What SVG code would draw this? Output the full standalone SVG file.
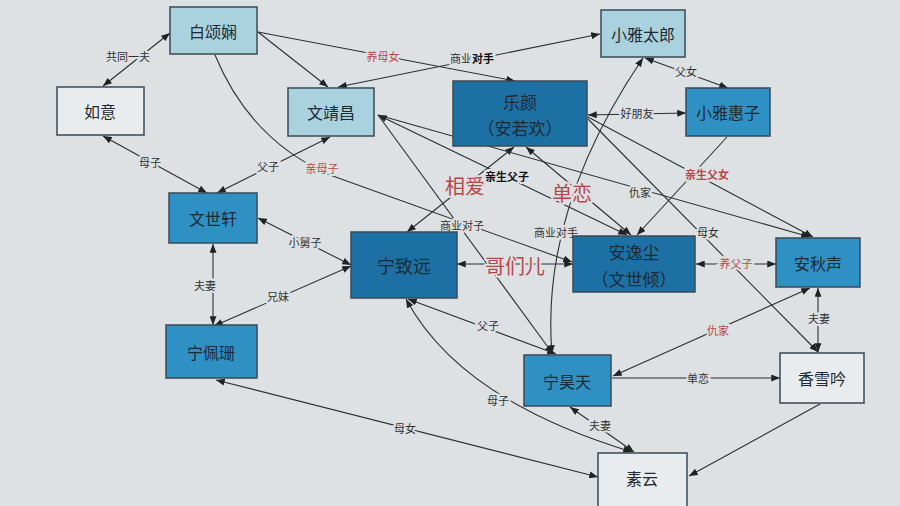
<svg xmlns="http://www.w3.org/2000/svg" width="900" height="506" viewBox="0 0 900 506">
<defs>
<marker id="ah" viewBox="0 0 10 8" refX="10" refY="4" markerWidth="9" markerHeight="7" markerUnits="userSpaceOnUse" orient="auto-start-reverse">
<path d="M0,0 L10,4 L0,8 z" fill="#1e2326"/>
</marker>
</defs>
<style>
.e{fill:none;stroke:#2a2f33;stroke-width:1.1}
.n{stroke:#3a4a55;stroke-width:1.5}
.lt{fill:#a9d1de}
.md{fill:#2f90c4}
.dk{fill:#1c70a4}
.wh{fill:#e9ecee}
.t{font-family:"Noto Sans CJK SC","Noto Sans CJK JP",sans-serif;fill:#1f2a33;text-anchor:middle;dominant-baseline:central}
.nt{font-size:16px}
.big{font-size:17px}
.l{font-family:"Noto Sans CJK SC",sans-serif;font-size:11px;fill:#333;text-anchor:middle;dominant-baseline:central;paint-order:stroke;stroke:#dde1e4;stroke-width:4px}
.r{fill:#b8474a}
.rb{font-size:20px;fill:#b8474a}
.b{font-weight:bold;fill:#111}
</style>
<rect x="0" y="0" width="900" height="506" fill="#dde1e4"/>

<g id="connectors">
<line class="e" x1="170" y1="33" x2="103" y2="86" marker-start="url(#ah)" marker-end="url(#ah)"/>
<line class="e" x1="258" y1="32" x2="328" y2="87" marker-end="url(#ah)"/>
<line class="e" x1="258" y1="32" x2="515" y2="81" marker-end="url(#ah)"/>
<line class="e" x1="338" y1="87" x2="600" y2="34" marker-start="url(#ah)" marker-end="url(#ah)"/>
<path class="e" d="M215,55 Q250,140 330,175 L572,262" marker-end="url(#ah)"/>
<line class="e" x1="103" y1="136" x2="207" y2="193" marker-start="url(#ah)" marker-end="url(#ah)"/>
<line class="e" x1="330" y1="137" x2="217" y2="193" marker-start="url(#ah)" marker-end="url(#ah)"/>
<line class="e" x1="258" y1="218" x2="351" y2="265" marker-start="url(#ah)" marker-end="url(#ah)"/>
<line class="e" x1="213" y1="244" x2="213" y2="325" marker-start="url(#ah)" marker-end="url(#ah)"/>
<line class="e" x1="214" y1="326" x2="351" y2="266" marker-start="url(#ah)" marker-end="url(#ah)"/>
<line class="e" x1="514" y1="147" x2="407" y2="232" marker-start="url(#ah)" marker-end="url(#ah)"/>
<line class="e" x1="457" y1="264" x2="573" y2="264" marker-start="url(#ah)" marker-end="url(#ah)"/>
<line class="e" x1="378" y1="115" x2="627" y2="235" marker-start="url(#ah)" marker-end="url(#ah)"/>
<line class="e" x1="378" y1="115" x2="810" y2="237" marker-end="url(#ah)"/>
<line class="e" x1="378" y1="115" x2="553" y2="354" marker-end="url(#ah)"/>
<line class="e" x1="526" y1="147" x2="631" y2="235" marker-start="url(#ah)" marker-end="url(#ah)"/>
<line class="e" x1="727" y1="137" x2="637" y2="235" marker-end="url(#ah)"/>
<line class="e" x1="588" y1="115" x2="686" y2="113" marker-start="url(#ah)" marker-end="url(#ah)"/>
<line class="e" x1="588" y1="117" x2="813" y2="237" marker-end="url(#ah)"/>
<line class="e" x1="588" y1="119" x2="818" y2="352" marker-end="url(#ah)"/>
<line class="e" x1="645" y1="58" x2="728" y2="88" marker-start="url(#ah)" marker-end="url(#ah)"/>
<path class="e" d="M552,354 Q540,210 643,58" marker-start="url(#ah)" marker-end="url(#ah)"/>
<line class="e" x1="408" y1="299" x2="556" y2="354" marker-start="url(#ah)" marker-end="url(#ah)"/>
<path class="e" d="M406,299 Q460,400 632,452" marker-start="url(#ah)" marker-end="url(#ah)"/>
<line class="e" x1="570" y1="407" x2="634" y2="452" marker-start="url(#ah)" marker-end="url(#ah)"/>
<line class="e" x1="216" y1="380" x2="598" y2="477" marker-start="url(#ah)" marker-end="url(#ah)"/>
<line class="e" x1="820" y1="404" x2="689" y2="476" marker-end="url(#ah)"/>
<line class="e" x1="612" y1="378" x2="780" y2="378" marker-end="url(#ah)"/>
<line class="e" x1="810" y1="288" x2="613" y2="376" marker-start="url(#ah)" marker-end="url(#ah)"/>
<line class="e" x1="818" y1="288" x2="818" y2="352" marker-start="url(#ah)" marker-end="url(#ah)"/>
<line class="e" x1="696" y1="264" x2="776" y2="264" marker-start="url(#ah)" marker-end="url(#ah)"/>

<text class="l" x="128" y="56">共同一夫</text>
<text class="l r" x="383" y="56">养母女</text>
<text class="l" x="472" y="58">商业<tspan class="b">对手</tspan></text>
<text class="l r" x="322" y="168">亲母子</text>
<text class="l" x="150" y="162">母子</text>
<text class="l" x="268" y="166">父子</text>
<text class="l" x="305" y="242">小舅子</text>
<text class="l" x="205" y="285">夫妻</text>
<text class="l" x="278" y="296">兄妹</text>
<text class="l rb" x="465" y="185">相爱</text>
<text class="l rb" x="515" y="265" font-size="21">哥们儿</text>
<text class="l b" x="507" y="176">亲生父子</text>
<text class="l" x="640" y="192">仇家</text>
<text class="l" x="462" y="225">商业对子</text>
<text class="l rb" x="572" y="192">单恋</text>
<text class="l" x="637" y="113">好朋友</text>
<text class="l r" x="707" y="174" font-weight="bold">亲生父女</text>
<text class="l" x="708" y="232">母女</text>
<text class="l" x="686" y="71">父女</text>
<text class="l" x="556" y="232">商业对手</text>
<text class="l" x="488" y="325">父子</text>
<text class="l" x="498" y="400">母子</text>
<text class="l" x="600" y="425">夫妻</text>
<text class="l" x="405" y="428">母女</text>
<text class="l" x="698" y="378">单恋</text>
<text class="l r" x="718" y="330" font-size="13">仇家</text>
<text class="l" x="819" y="318">夫妻</text>
<text class="l r" x="736" y="263">养父子</text>
</g>

<g id="baisongxian"><rect class="n lt" x="170" y="7" width="87" height="47"/><text class="t nt" x="213" y="31">白颂娴</text></g>
<g id="ruyi"><rect class="n wh" x="57" y="87" width="87" height="48"/><text class="t nt" x="100" y="111">如意</text></g>
<g id="wenjingchang"><rect class="n lt" x="288" y="88" width="86" height="48"/><text class="t nt" x="331" y="112">文靖昌</text></g>
<g id="leyan"><rect class="n dk" x="453" y="81" width="134" height="65"/><text class="t big" x="520" y="101">乐颜</text><text class="t big" x="520" y="127">（安若欢）</text></g>
<g id="xiaoyataro"><rect class="n lt" x="601" y="10" width="84" height="47"/><text class="t nt" x="643" y="34">小雅太郎</text></g>
<g id="xiaoyahuizi"><rect class="n md" x="686" y="88" width="84" height="48"/><text class="t nt" x="728" y="112">小雅惠子</text></g>
<g id="wenshixuan"><rect class="n md" x="169" y="193" width="88" height="50"/><text class="t nt" x="213" y="218">文世轩</text></g>
<g id="ningzhiyuan"><rect class="n dk" x="351" y="232" width="106" height="66"/><text class="t" font-size="18" x="404" y="265">宁致远</text></g>
<g id="anyichen"><rect class="n dk" x="573" y="236" width="122" height="56"/><text class="t big" x="634" y="251">安逸尘</text><text class="t big" x="634" y="278">（文世倾）</text></g>
<g id="anqiusheng"><rect class="n md" x="776" y="238" width="84" height="49"/><text class="t nt" x="818" y="263">安秋声</text></g>
<g id="ningpeishan"><rect class="n md" x="166" y="325" width="91" height="53"/><text class="t nt" x="211" y="352">宁佩珊</text></g>
<g id="ninghaotian"><rect class="n md" x="524" y="355" width="87" height="51"/><text class="t nt" x="567" y="381">宁昊天</text></g>
<g id="xiangxueyin"><rect class="n wh" x="780" y="353" width="84" height="50"/><text class="t nt" x="822" y="378">香雪吟</text></g>
<g id="suyun"><rect class="n wh" x="598" y="453" width="89" height="55"/><text class="t nt" x="642" y="478">素云</text></g>
</svg>
